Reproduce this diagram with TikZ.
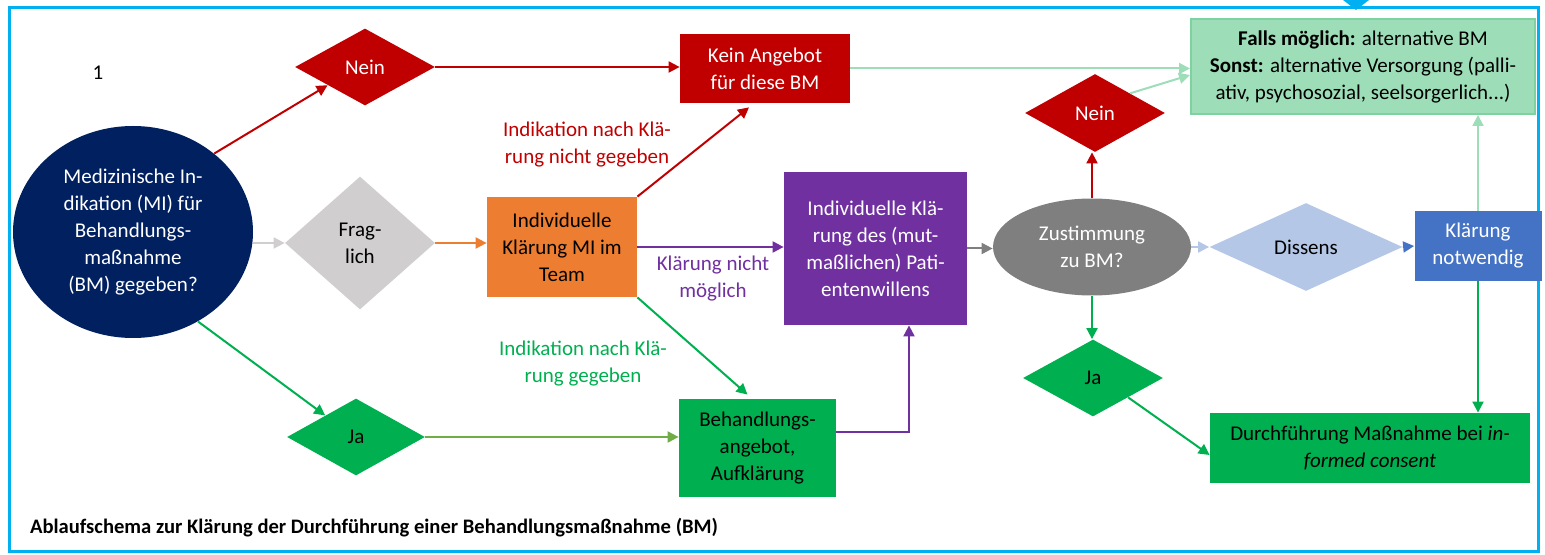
\documentclass[tikz,border=0pt]{standalone}
\usepackage{fontspec}
\setmainfont{Carlito}
\usepackage{tikz}
\usetikzlibrary{arrows.meta, positioning, shapes.geometric}
\definecolor{mynavy}{RGB}{0,32,96}
\definecolor{myred}{RGB}{192,0,0}
\definecolor{mygray}{RGB}{208,206,206}
\definecolor{myorange}{RGB}{237,125,49}
\definecolor{mypurple}{RGB}{112,48,160}
\definecolor{mygreen}{RGB}{0,176,80}
\definecolor{myolive}{RGB}{112,173,71}
\definecolor{mymint}{RGB}{157,222,184}
\definecolor{mymintdark}{RGB}{125,210,160}
\definecolor{mylightblue}{RGB}{180,199,231}
\definecolor{myblue}{RGB}{68,114,196}
\definecolor{mydarkgray}{RGB}{127,127,127}
\definecolor{mycyan}{RGB}{0,176,240}

\begin{document}
\begin{tikzpicture}[x=0.5pt, y=-0.5pt,
    font=\fontsize{10.5}{13.5}\selectfont,
    arrow/.style={-{Triangle[length=5.5pt,width=5.5pt]}, line width=1pt},
    decision/.style={diamond, inner sep=0pt, align=center},
    process/.style={rectangle, inner sep=0pt, align=center},
    edge_label/.style={align=center}
]

    % Frame round the whole chart
    \useasboundingbox (0,0) rectangle (1545,555);
    \draw[mycyan, line width=1.5pt] (9,8) rectangle (1538,551);
    \fill[mycyan] (1343,0) -- (1369,0) -- (1356,10) -- cycle;

    % Figure number
    \node (fig_no) at (98,73) {1};

    % Start: medical indication
    \node[ellipse, fill=mynavy, text=white, inner sep=0pt, align=center,
          minimum width=120pt, minimum height=106pt] (indication) at (133,232)
          {Medizinische In-\\dikation (MI) für\\Behandlungs-\\maßnahme\\(BM) gegeben?};

    % Three answers to the first question
    \node[decision, fill=myred, text=white, minimum width=70pt, minimum height=38.5pt] (nein_top) at (365,67) {Nein};
    \node[decision, fill=mygray, minimum width=75pt, minimum height=66.5pt] (fraglich) at (360,243) {Frag-\\lich};
    \node[decision, fill=mygreen, minimum width=69pt, minimum height=38.5pt] (ja_left) at (356,437) {Ja};

    % No offer
    \node[process, fill=myred, text=white, minimum width=85pt, minimum height=34.5pt] (no_offer) at (765,68.5) {Kein Angebot\\für diese BM};

    % Clarification in the team
    \node[process, fill=myorange, minimum width=75pt, minimum height=50pt] (team) at (562,247) {Individuelle\\Klärung MI im\\Team};

    % Patient's will
    \node[process, fill=mypurple, text=white, minimum width=91.5pt, minimum height=76.5pt] (patient_will) at (875.5,248.5)
          {Individuelle Klä-\\rung des (mut-\\maßlichen) Pati-\\entenwillens};

    % Treatment offer
    \node[process, fill=mygreen, minimum width=78.5pt, minimum height=49pt] (offer) at (757.5,448) {Behandlungs-\\angebot,\\Aufklärung};

    % Consent question
    \node[ellipse, fill=mydarkgray, text=white, inner sep=0pt, align=center,
          minimum width=99pt, minimum height=48.5pt] (consent) at (1092,247) {Zustimmung\\zu BM?};
    \node[decision, fill=myred, text=white, minimum width=70pt, minimum height=39pt] (nein_right) at (1095,113) {Nein};
    \node[decision, fill=mygreen, minimum width=70pt, minimum height=38.5pt] (ja_right) at (1093,378) {Ja};
    \node[decision, fill=mylightblue, minimum width=96.5pt, minimum height=44pt] (dissens) at (1306,247) {Dissens};
    \node[process, fill=myblue, text=white, minimum width=63.5pt, minimum height=35pt] (clarify) at (1478,246) {Klärung\\notwendig};

    % Alternatives
    \node[process, fill=mymint, draw=mymintdark, line width=1pt, minimum width=172pt, minimum height=47.5pt] (alternative) at (1363,66.5)
          {\textbf{Falls möglich:} alternative BM\\\textbf{Sonst:} alternative Versorgung (palli-\\ativ, psychosozial, seelsorgerlich...)};

    % Carrying out the measure
    \node[process, fill=mygreen, minimum width=160pt, minimum height=35pt] (perform) at (1370,448)
          {Durchführung Maßnahme bei \textit{in-}\\\textit{formed consent}};

    % Edge labels
    \node[edge_label, text=myred] (lbl_not_given) at (587,145) {Indikation nach Klä-\\rung nicht gegeben};
    \node[edge_label, text=mypurple] (lbl_not_possible) at (713,279) {Klärung nicht\\möglich};
    \node[edge_label, text=mygreen] (lbl_given) at (583,364) {Indikation nach Klä-\\rung gegeben};

    % Caption
    \node[anchor=west, font=\bfseries\fontsize{10.3}{13.5}\selectfont] (caption) at (23,528)
          {Ablaufschema zur Klärung der Durchführung einer Behandlungsmaßnahme (BM)};

    % Connections from the first question
    \draw[arrow, myred] (indication.44) -- (nein_top.206);
    \draw[arrow, mygray] (indication.east |- fraglich) -- (fraglich.west);
    \draw[arrow, mygreen] (indication.-54) -- (ja_left.145);

    \draw[arrow, myred] (nein_top.east) -- (no_offer.west |- nein_top);
    \draw[arrow, myorange] (fraglich.east) -- (team.west |- fraglich);
    \draw[arrow, myolive] (ja_left.east) -- (offer.west |- ja_left);

    % Results of the team clarification
    \draw[arrow, myred] (team.north east) -- ([xshift=-8pt,yshift=-2pt]no_offer.south);
    \draw[arrow, mypurple] (team.east) -- (team.east -| patient_will.west);
    \draw[arrow, mygreen] (team.south east) -- ([xshift=-5pt,yshift=2pt]offer.north);

    % Offer to patient's will
    \draw[arrow, mypurple] ([yshift=8pt]offer.east) -| ([xshift=16.75pt]patient_will.south);

    % Patient's will to consent
    \draw[arrow, mydarkgray] (patient_will.east) -- (patient_will.east -| consent.west);

    % Answers to consent
    \draw[arrow, myred] (consent.north) -- (consent.north |- nein_right.south);
    \draw[arrow, mygreen] (consent.south) -- (consent.south |- ja_right.north);
    \draw[arrow, mylightblue] (consent.east) -- (dissens.west);
    \draw[arrow, myblue] (dissens.east) -- (clarify.west);

    % Into the alternatives
    \draw[arrow, mymint] (no_offer.east) -- (alternative.west |- no_offer);
    \draw[arrow, mymint] (nein_right.north east) -- ([yshift=-4.25pt]alternative.west);
    \draw[arrow, mymint] (clarify.north) -- (clarify.north |- alternative.south);

    % Into carrying out
    \draw[arrow, mygreen] (clarify.south) -- (clarify.south |- perform.north);
    \draw[arrow, mygreen] (ja_right.south east) -- ([yshift=-3.5pt]perform.west);

\end{tikzpicture}
\end{document}
